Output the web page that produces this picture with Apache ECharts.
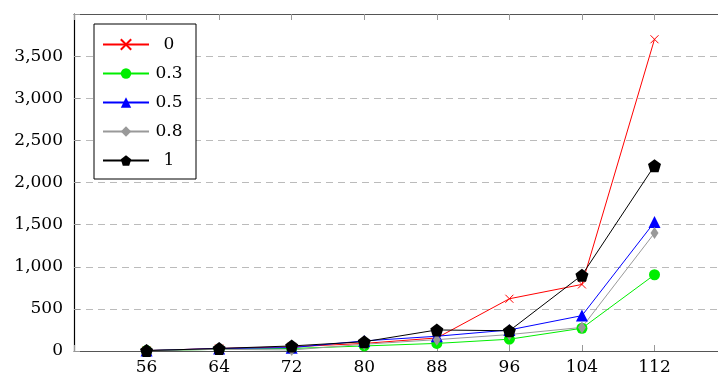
<!DOCTYPE html>
<html>
<head>
<meta charset="utf-8">
<script src="https://cdn.jsdelivr.net/npm/echarts@6/dist/echarts.min.js"></script>
<style>html,body{margin:0;padding:0;background:#fff}#c{width:718px;height:376px}</style>
</head>
<body>
<div id="c"></div>
<script>
const xValues = [56, 64, 72, 80, 88, 96, 104, 112];
const seriesNames = ['0', '0.3', '0.5', '0.8', '1'];
const s0 = [5, 30, 50, 90, 155, 620, 790, 3700];
const s03 = [5, 20, 30, 60, 90, 140, 270, 905];
const s05 = [5, 30, 40, 120, 175, 250, 420, 1530];
const s08 = [5, 20, 12, 80, 135, 195, 280, 1400];
const s1 = [5, 30, 60, 110, 250, 240, 900, 2200];
const yTicks = [0, 500, 1000, 1500, 2000, 2500, 3000, 3500];

const FONT = 'DejaVu Serif';
const colors = ['#ff0000', '#00ee00', '#0000ff', '#999999', '#000000'];
const symbols = [
  'path://M0,0L10,10M10,0L0,10',
  'circle',
  'triangle',
  'diamond',
  'path://M0,-1L0.951,-0.309L0.588,0.809L-0.588,0.809L-0.951,-0.309Z'
];
const sizes = [8, 11, 12, [8, 12], 13];
const datas = [s0, s03, s05, s08, s1];

const chart = echarts.init(document.getElementById('c'), null, {renderer: 'canvas'});
const series = datas.map((d, i) => ({
  name: seriesNames[i],
  type: 'line',
  data: d.map((v, j) => [xValues[j], v]),
  symbol: symbols[i],
  symbolSize: sizes[i],
  showSymbol: true,
  animation: false,
  lineStyle: {color: colors[i], width: 1},
  itemStyle: i === 0
    ? {color: 'rgba(0,0,0,0)', borderColor: colors[i], borderWidth: 1}
    : {color: colors[i], borderWidth: 0},
  emphasis: {disabled: true}
}));

const fmt = v => v.toLocaleString('en-US');

chart.setOption({
  animation: false,
  backgroundColor: '#fff',
  grid: {left: 74, top: 14, right: 0, bottom: 25, containLabel: false},
  legend: {
    left: 94, top: 24,
    orient: 'vertical',
    backgroundColor: '#fff',
    borderColor: '#000', borderWidth: 1,
    padding: [12, 12, 10, 8],
    itemWidth: 46, itemHeight: 13, itemGap: 12,
    data: seriesNames,
    textStyle: {fontFamily: FONT, fontSize: 17, color: '#000',
      rich: {a: {fontFamily: FONT, fontSize: 17, color: '#000', width: 30, align: 'center', lineHeight: 20}}},
    formatter: n => '{a|' + n + '}'
  },
  xAxis: [{
    type: 'value', min: 48, max: 119, interval: 8, position: 'bottom',
    axisLine: {show: true, onZero: false, lineStyle: {color: '#555', width: 1.2}},
    axisTick: {show: true, inside: true, length: 6, lineStyle: {color: '#999'}},
    axisLabel: {fontFamily: FONT, fontSize: 17, color: '#000', margin: 8, showMaxLabel: false,
      formatter: v => (xValues.indexOf(v) >= 0 ? String(v) : '')},
    splitLine: {show: false}
  }, {
    type: 'value', min: 48, max: 119, interval: 8, position: 'top',
    axisLine: {show: true, onZero: false, lineStyle: {color: '#555', width: 1.2}},
    axisTick: {show: true, inside: true, length: 6, lineStyle: {color: '#999'}},
    axisLabel: {show: false},
    splitLine: {show: false}
  }],
  yAxis: {
    type: 'value', min: 0, max: 4000, interval: 500,
    axisLine: {show: true, onZero: false, lineStyle: {color: '#000', width: 1.2}},
    axisTick: {show: true, inside: true, length: 6, lineStyle: {color: '#999'}},
    axisLabel: {fontFamily: FONT, fontSize: 17, color: '#000', margin: 11,
      formatter: v => (yTicks.indexOf(v) >= 0 ? fmt(v) : '')},
    splitLine: {show: true, lineStyle: {color: '#bbb', type: [7, 5], width: 1}}
  },
  series: series
});
</script>
</body>
</html>
